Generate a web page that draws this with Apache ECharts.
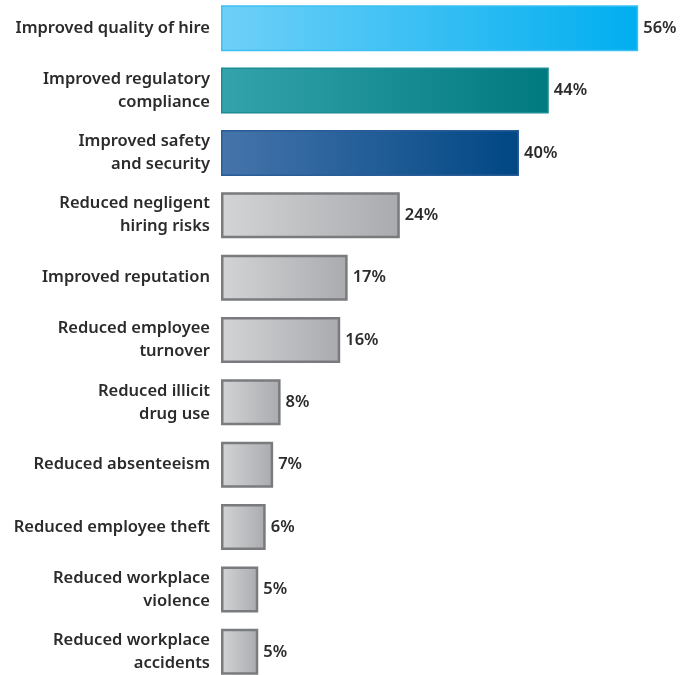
<!DOCTYPE html>
<html>
<head>
<meta charset="utf-8">
<script src="https://cdn.jsdelivr.net/npm/echarts@6/dist/echarts.min.js"></script>
<style>
  html, body { margin: 0; padding: 0; background: #fff; }
  #chart { width: 694px; height: 675px; }
</style>
</head>
<body>
<div id="chart"></div>
<script>
// Reported benefits of background screening (% of respondents)
var categories = [
  'Improved quality of hire',
  'Improved regulatory\ncompliance',
  'Improved safety\nand security',
  'Reduced negligent\nhiring risks',
  'Improved reputation',
  'Reduced employee\nturnover',
  'Reduced illicit\ndrug use',
  'Reduced absenteeism',
  'Reduced employee theft',
  'Reduced workplace\nviolence',
  'Reduced workplace\naccidents'
];
var values = [56, 44, 40, 24, 17, 16, 8, 7, 6, 5, 5];

// Fill gradient (left, right) and border colour for each bar
var blueFill = ['#6fd0f7', '#00aeef', '#3cc0f3'];
var tealFill = ['#34a3ab', '#00797f', '#1b8d94'];
var navyFill = ['#4674ab', '#004784', '#285d98'];
var greyFill = ['#d3d4d6', '#a9abae', '#7a7b7e'];
var palette = [blueFill, tealFill, navyFill];

function barStyle(i) {
  var c = palette[i] || greyFill;
  return {
    color: new echarts.graphic.LinearGradient(0, 0, 1, 0, [
      { offset: 0, color: c[0] },
      { offset: 1, color: c[1] }
    ]),
    borderColor: c[2],
    borderWidth: i < 3 ? 1.5 : 2.5
  };
}

var textFont = {
  color: '#2b2b2b',
  fontFamily: 'Noto Sans',
  fontWeight: 600,
  fontSize: 16.5
};

var chart = echarts.init(document.getElementById('chart'));
chart.setOption({
  animation: false,
  grid: {
    left: 221, right: 26, top: -3, height: 686,
    containLabel: false,
    outerBoundsMode: 'none'
  },
  xAxis: {
    type: 'value', min: 0, max: 60,
    show: false
  },
  yAxis: {
    type: 'category',
    inverse: true,
    data: categories,
    axisLine: { show: false },
    axisTick: { show: false },
    axisLabel: Object.assign({
      margin: 11,
      lineHeight: 23,
      align: 'right'
    }, textFont)
  },
  series: [{
    type: 'bar',
    barWidth: 46,
    data: values.map(function (v, i) {
      return { value: v, itemStyle: barStyle(i) };
    }),
    label: Object.assign({
      show: true,
      position: 'right',
      distance: 5,
      formatter: '{c}%'
    }, textFont)
  }]
});
</script>
</body>
</html>
